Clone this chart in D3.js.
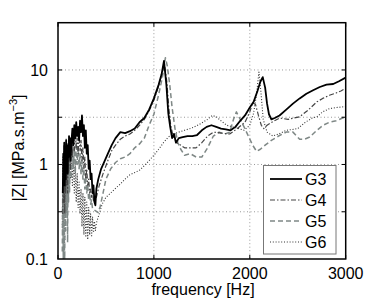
<!DOCTYPE html>
<html>
<head>
<meta charset="utf-8">
<script src="https://cdnjs.cloudflare.com/ajax/libs/d3/7.8.5/d3.min.js"></script>
<style>
  body { margin: 0; background: #fff; }
  svg { font-family: "Liberation Sans", Arial, sans-serif; }
</style>
</head>
<body>
<div id="chart"></div>
<script>
// Data: [frequency Hz, |Z| MPa.s.m^-3]
var g3Data = [[50,0.5],[55,1.3],[60,0.6],[65,1.7],[70,0.6],[75,1.5],[80,0.7],[85,1.8],[90,1.0],[95,1.6],[100,0.8],[105,1.4],[110,1.2],[115,2.0],[120,1.3],[125,1.9],[130,1.1],[140,1.7],[150,2.4],[160,1.6],[170,2.6],[180,1.9],[190,2.8],[200,2.0],[210,2.5],[220,1.8],[230,2.9],[240,2.2],[250,3.3],[260,2.0],[270,2.6],[280,1.5],[290,2.3],[300,1.3],[310,1.6],[320,0.9],[330,1.1],[340,0.7],[350,0.8],[360,0.5],[370,0.6],[380,0.4],[390,0.37],[400,0.55],[420,0.7],[450,0.9],[480,1.05],[520,1.3],[560,1.6],[600,1.9],[650,2.2],[700,2.15],[750,2.25],[800,2.4],[850,2.8],[900,3.1],[950,3.8],[1000,5.0],[1050,7.0],[1080,9.0],[1105,12.5],[1130,7],[1150,3.5],[1170,2.5],[1190,1.9],[1210,2.1],[1230,1.7],[1260,1.9],[1300,1.95],[1350,2.0],[1400,2.0],[1450,2.05],[1500,2.3],[1550,2.5],[1600,2.6],[1650,2.5],[1700,2.4],[1750,2.35],[1800,2.3],[1850,2.5],[1900,2.9],[1950,3.3],[2000,4.0],[2040,4.6],[2080,6.0],[2110,7.5],[2135,8.4],[2160,6.5],[2180,4.4],[2200,3.4],[2225,3.0],[2260,3.1],[2310,3.3],[2380,3.8],[2450,4.4],[2520,5.0],[2590,5.6],[2660,6.1],[2730,6.6],[2800,7.0],[2870,7.1],[2930,7.6],[3000,8.3]];

var g4Data = [[50,0.3],[55,1.0],[60,0.4],[65,1.3],[70,0.3],[75,1.2],[80,0.5],[85,1.4],[90,0.6],[95,1.1],[100,0.5],[105,1.3],[110,0.8],[120,1.5],[130,0.9],[140,1.8],[150,1.2],[160,2.0],[170,1.4],[180,2.2],[190,1.5],[200,1.9],[210,1.3],[220,2.1],[230,1.4],[240,1.8],[250,1.1],[260,1.5],[270,0.9],[280,1.2],[290,0.7],[300,0.9],[310,0.6],[320,0.7],[330,0.5],[340,0.55],[350,0.45],[360,0.5],[370,0.42],[380,0.4],[400,0.45],[430,0.6],[470,0.8],[520,1.1],[560,1.4],[600,1.6],[650,1.85],[700,2.0],[750,2.1],[800,2.3],[850,2.6],[900,3.0],[950,3.7],[1000,4.8],[1050,6.8],[1080,8.8],[1110,11.5],[1135,7.5],[1155,4.0],[1175,2.6],[1200,2.0],[1240,1.7],[1280,1.6],[1320,1.5],[1380,1.5],[1440,1.5],[1500,1.7],[1560,2.0],[1620,2.2],[1700,2.15],[1790,2.1],[1870,2.4],[1950,2.8],[2000,3.6],[2030,4.5],[2060,4.3],[2090,3.3],[2120,2.6],[2145,2.4],[2180,2.6],[2230,2.8],[2310,3.1],[2400,3.0],[2460,3.1],[2520,3.2],[2600,3.7],[2700,4.6],[2760,5.0],[2830,5.4],[2900,5.7],[2950,6.0],[3000,6.4]];

var g5Data = [[45,0.12],[50,0.7],[55,0.1],[60,1.1],[65,0.15],[70,0.1],[75,0.8],[80,0.2],[85,1.2],[90,0.3],[95,1.0],[100,0.15],[105,0.9],[110,0.4],[115,1.3],[120,0.5],[130,1.4],[140,0.7],[150,1.6],[160,0.9],[170,1.5],[180,0.8],[190,1.7],[200,1.0],[210,1.5],[220,0.9],[230,1.3],[240,0.8],[250,1.1],[260,0.7],[270,0.9],[280,0.55],[290,0.75],[300,0.5],[310,0.6],[320,0.42],[330,0.5],[340,0.38],[350,0.42],[360,0.34],[380,0.33],[400,0.32],[420,0.31],[440,0.36],[470,0.5],[500,0.7],[550,0.9],[600,1.05],[650,1.15],[700,1.2],[750,1.3],[800,1.5],[850,1.65],[900,1.9],[950,2.6],[1000,3.4],[1050,5.5],[1090,8.5],[1120,13.5],[1140,11],[1165,7],[1190,4.0],[1220,2.4],[1250,1.7],[1280,1.45],[1320,1.25],[1380,1.3],[1440,1.2],[1500,1.2],[1560,1.5],[1620,2.0],[1680,2.2],[1740,2.1],[1790,2.2],[1830,3.0],[1860,3.6],[1900,3.0],[1940,2.5],[1985,2.0],[2030,1.6],[2070,1.38],[2110,1.45],[2160,1.6],[2225,1.8],[2300,2.0],[2380,2.2],[2450,2.2],[2520,1.85],[2570,1.85],[2625,1.95],[2700,2.3],[2765,2.6],[2830,2.8],[2900,2.9],[3000,3.2]];

var g6Data = [[45,0.2],[50,1.2],[55,0.25],[60,1.6],[65,0.2],[70,0.15],[75,1.4],[80,0.3],[85,1.9],[90,0.5],[95,1.5],[100,0.4],[105,1.7],[110,0.6],[120,1.6],[130,0.7],[140,1.4],[150,0.6],[160,1.2],[170,0.5],[180,1.0],[190,0.4],[200,0.8],[210,0.35],[220,0.65],[230,0.3],[240,0.55],[250,0.22],[260,0.5],[270,0.18],[280,0.45],[290,0.17],[300,0.4],[310,0.16],[320,0.35],[330,0.18],[340,0.3],[350,0.17],[360,0.28],[370,0.19],[380,0.25],[390,0.2],[400,0.24],[430,0.3],[460,0.38],[500,0.45],[550,0.5],[600,0.56],[650,0.62],[700,0.7],[750,0.78],[800,0.82],[850,0.87],[900,0.97],[950,1.1],[1000,1.25],[1050,1.45],[1100,1.7],[1150,1.95],[1200,2.1],[1260,2.2],[1320,2.3],[1380,2.4],[1440,2.55],[1500,2.75],[1560,3.0],[1610,3.3],[1650,3.2],[1700,2.9],[1760,2.6],[1820,2.5],[1880,2.4],[1940,2.3],[2000,2.6],[2040,3.5],[2070,5.5],[2095,9.5],[2115,6],[2140,3.0],[2180,2.2],[2240,2.0],[2300,2.1],[2380,2.3],[2450,2.35],[2500,2.4],[2580,2.8],[2650,3.1],[2700,3.2],[2760,3.6],[2830,3.9],[2900,4.0],[3000,4.1]];

var seriesNames = ["G3", "G4", "G5", "G6"];
var xTicks = [0, 1000, 2000, 3000];
var yTicks = [0.1, 1, 10];
var yGrid = [0.316, 1, 3.16, 10];

// Boilerplate
var width = 382, height = 300;
var plot = { left: 58, right: 345.7, top: 22.7, bottom: 259 };

var svg = d3.select("#chart")
  .append("svg")
  .attr("width", width)
  .attr("height", height);

var x = d3.scaleLinear()
  .domain([0, 3000])
  .range([plot.left, plot.right]);

var y = d3.scaleLog()
  .domain([0.1, Math.pow(10, 1.5)])
  .range([plot.bottom, plot.top]);

// grid lines
svg.selectAll(".vgrid")
  .data([1000, 2000])
  .enter()
  .append("line")
  .attr("x1", d => x(d)).attr("x2", d => x(d))
  .attr("y1", plot.top).attr("y2", plot.bottom)
  .attr("stroke", "#999")
  .attr("stroke-width", 1)
  .attr("stroke-dasharray", "1,2.5");

svg.selectAll(".hgrid")
  .data(yGrid)
  .enter()
  .append("line")
  .attr("x1", plot.left).attr("x2", plot.right)
  .attr("y1", d => y(d)).attr("y2", d => y(d))
  .attr("stroke", "#999")
  .attr("stroke-width", 1)
  .attr("stroke-dasharray", "1,2.5");

// clip data to plot box
svg.append("clipPath")
  .attr("id", "clip")
  .append("rect")
  .attr("x", plot.left).attr("y", plot.top)
  .attr("width", plot.right - plot.left)
  .attr("height", plot.bottom - plot.top);

var line = d3.line()
  .x(d => x(d[0]))
  .y(d => y(d[1]));

var styles = [
  { data: g3Data, color: "#000", width: 1.8, dash: null },
  { data: g4Data, color: "#444", width: 1.2, dash: "5,2,1.5,2" },
  { data: g5Data, color: "#7f8886", width: 1.5, dash: "5,3" },
  { data: g6Data, color: "#333", width: 1.1, dash: "1,1.8" }
];

// draw in back-to-front order
[3, 2, 1, 0].forEach(function(i) {
  var s = styles[i];
  svg.append("path")
    .datum(s.data)
    .attr("clip-path", "url(#clip)")
    .attr("fill", "none")
    .attr("stroke", s.color)
    .attr("stroke-width", s.width)
    .attr("stroke-dasharray", s.dash)
    .attr("stroke-linejoin", "round")
    .attr("d", line);
});

// frame
svg.append("rect")
  .attr("x", plot.left).attr("y", plot.top)
  .attr("width", plot.right - plot.left)
  .attr("height", plot.bottom - plot.top)
  .attr("fill", "none")
  .attr("stroke", "#000")
  .attr("stroke-width", 1.5);

// tick marks (inside, all sides)
var tickLen = 4;
xTicks.forEach(function(t) {
  svg.append("line").attr("x1", x(t)).attr("x2", x(t))
    .attr("y1", plot.bottom).attr("y2", plot.bottom - tickLen).attr("stroke", "#000");
  svg.append("line").attr("x1", x(t)).attr("x2", x(t))
    .attr("y1", plot.top).attr("y2", plot.top + tickLen).attr("stroke", "#000");
});
yGrid.forEach(function(t) {
  svg.append("line").attr("x1", plot.left).attr("x2", plot.left + tickLen)
    .attr("y1", y(t)).attr("y2", y(t)).attr("stroke", "#000");
  svg.append("line").attr("x1", plot.right).attr("x2", plot.right - tickLen)
    .attr("y1", y(t)).attr("y2", y(t)).attr("stroke", "#000");
});

// tick labels
svg.selectAll(".xlab")
  .data(xTicks)
  .enter()
  .append("text")
  .attr("x", d => x(d))
  .attr("y", 279)
  .attr("text-anchor", "middle")
  .style("font-size", "16px")
  .text(d => d);

svg.selectAll(".ylab")
  .data(yTicks)
  .enter()
  .append("text")
  .attr("x", 48)
  .attr("y", d => y(d) + 6)
  .attr("text-anchor", "end")
  .style("font-size", "16px")
  .text(d => d);

// axis titles
svg.append("text")
  .attr("x", 203)
  .attr("y", 295)
  .attr("text-anchor", "middle")
  .style("font-size", "16px")
  .text("frequency [Hz]");

var ylabel = svg.append("text")
  .attr("transform", "translate(24,148) rotate(-90)")
  .attr("text-anchor", "middle")
  .style("font-size", "16px");
ylabel.append("tspan").text("|Z|  [MPa.s.m");
ylabel.append("tspan").attr("dy", -7).style("font-size", "11px").text("\u22123");
ylabel.append("tspan").attr("dy", 7).text("]");

// legend
svg.append("rect")
  .attr("x", 263.5).attr("y", 165.5)
  .attr("width", 72.5).attr("height", 88.5)
  .attr("fill", "#fff")
  .attr("stroke", "#777")
  .attr("stroke-width", 1);

var legendY = [179, 200, 221, 242];
styles.forEach(function(s, i) {
  svg.append("line")
    .attr("x1", 270).attr("x2", 302)
    .attr("y1", legendY[i]).attr("y2", legendY[i])
    .attr("stroke", s.color)
    .attr("stroke-width", s.width)
    .attr("stroke-dasharray", s.dash);
  svg.append("text")
    .attr("x", 305)
    .attr("y", legendY[i] + 6)
    .style("font-size", "16px")
    .text(seriesNames[i]);
});
</script>
</body>
</html>
